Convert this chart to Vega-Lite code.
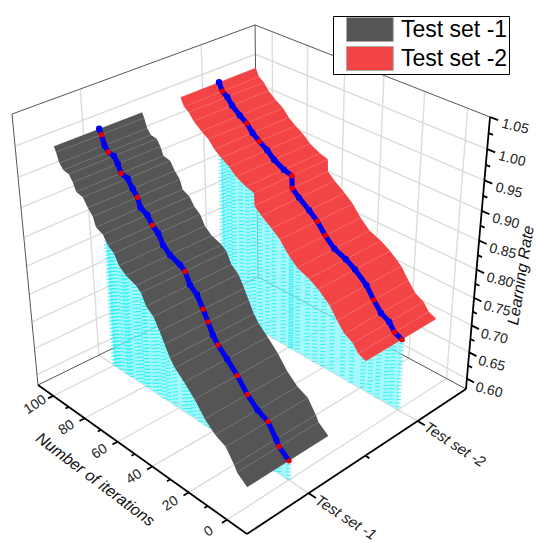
{"$schema":"https://vega.github.io/schema/vega-lite/v6.json","width":536,"height":543,"padding":0,"autosize":"none","config":{"view":{"stroke":null},"font":"Liberation Sans"},
"data":{"values":[
{"t":"g","iter":0,"set":0.5,"rate":0.58,"iter2":0,"set2":2.5,"rate2":0.58},{"t":"g","iter":20,"set":0.5,"rate":0.58,"iter2":20,"set2":2.5,"rate2":0.58},{"t":"g","iter":40,"set":0.5,"rate":0.58,"iter2":40,"set2":2.5,"rate2":0.58},{"t":"g","iter":60,"set":0.5,"rate":0.58,"iter2":60,"set2":2.5,"rate2":0.58},{"t":"g","iter":80,"set":0.5,"rate":0.58,"iter2":80,"set2":2.5,"rate2":0.58},{"t":"g","iter":100,"set":0.5,"rate":0.58,"iter2":100,"set2":2.5,"rate2":0.58},
{"t":"g","iter":-10,"set":1,"rate":0.58,"iter2":110,"set2":1,"rate2":0.58},{"t":"g","iter":-10,"set":2,"rate":0.58,"iter2":110,"set2":2,"rate2":0.58},
{"t":"g","iter":110,"set":1,"rate":0.58,"iter2":110,"set2":1,"rate2":1.05},{"t":"g","iter":110,"set":2,"rate":0.58,"iter2":110,"set2":2,"rate2":1.05},
{"t":"g","iter":110,"set":0.5,"rate":0.6,"iter2":110,"set2":2.5,"rate2":0.6},{"t":"g","iter":110,"set":0.5,"rate":0.65,"iter2":110,"set2":2.5,"rate2":0.65},{"t":"g","iter":110,"set":0.5,"rate":0.7,"iter2":110,"set2":2.5,"rate2":0.7},{"t":"g","iter":110,"set":0.5,"rate":0.75,"iter2":110,"set2":2.5,"rate2":0.75},{"t":"g","iter":110,"set":0.5,"rate":0.8,"iter2":110,"set2":2.5,"rate2":0.8},{"t":"g","iter":110,"set":0.5,"rate":0.85,"iter2":110,"set2":2.5,"rate2":0.85},{"t":"g","iter":110,"set":0.5,"rate":0.9,"iter2":110,"set2":2.5,"rate2":0.9},{"t":"g","iter":110,"set":0.5,"rate":0.95,"iter2":110,"set2":2.5,"rate2":0.95},{"t":"g","iter":110,"set":0.5,"rate":1,"iter2":110,"set2":2.5,"rate2":1},
{"t":"g","iter":0,"set":2.5,"rate":0.58,"iter2":0,"set2":2.5,"rate2":1.05},{"t":"g","iter":20,"set":2.5,"rate":0.58,"iter2":20,"set2":2.5,"rate2":1.05},{"t":"g","iter":40,"set":2.5,"rate":0.58,"iter2":40,"set2":2.5,"rate2":1.05},{"t":"g","iter":60,"set":2.5,"rate":0.58,"iter2":60,"set2":2.5,"rate2":1.05},{"t":"g","iter":80,"set":2.5,"rate":0.58,"iter2":80,"set2":2.5,"rate2":1.05},{"t":"g","iter":100,"set":2.5,"rate":0.58,"iter2":100,"set2":2.5,"rate2":1.05},
{"t":"g","iter":-10,"set":2.5,"rate":0.6,"iter2":110,"set2":2.5,"rate2":0.6},{"t":"g","iter":-10,"set":2.5,"rate":0.65,"iter2":110,"set2":2.5,"rate2":0.65},{"t":"g","iter":-10,"set":2.5,"rate":0.7,"iter2":110,"set2":2.5,"rate2":0.7},{"t":"g","iter":-10,"set":2.5,"rate":0.75,"iter2":110,"set2":2.5,"rate2":0.75},{"t":"g","iter":-10,"set":2.5,"rate":0.8,"iter2":110,"set2":2.5,"rate2":0.8},{"t":"g","iter":-10,"set":2.5,"rate":0.85,"iter2":110,"set2":2.5,"rate2":0.85},{"t":"g","iter":-10,"set":2.5,"rate":0.9,"iter2":110,"set2":2.5,"rate2":0.9},{"t":"g","iter":-10,"set":2.5,"rate":0.95,"iter2":110,"set2":2.5,"rate2":0.95},{"t":"g","iter":-10,"set":2.5,"rate":1,"iter2":110,"set2":2.5,"rate2":1},
{"t":"f","iter":110,"set":0.5,"rate":0.58,"iter2":110,"set2":0.5,"rate2":1.05},{"t":"f","iter":110,"set":0.5,"rate":1.05,"iter2":110,"set2":2.5,"rate2":1.05},{"t":"f","iter":110,"set":2.5,"rate":1.05,"iter2":-10,"set2":2.5,"rate2":1.05},{"t":"f","iter":110,"set":2.5,"rate":0.58,"iter2":110,"set2":2.5,"rate2":1.05},{"t":"f","iter":110,"set":0.5,"rate":0.58,"iter2":110,"set2":2.5,"rate2":0.58},{"t":"f","iter":110,"set":2.5,"rate":0.58,"iter2":-10,"set2":2.5,"rate2":0.58},
{"t":"a","iter":-10,"set":0.5,"rate":0.58,"iter2":110,"set2":0.5,"rate2":0.58},{"t":"a","iter":-10,"set":0.5,"rate":0.58,"iter2":-10,"set2":2.5,"rate2":0.58},{"t":"a","iter":-10,"set":2.5,"rate":0.58,"iter2":-10,"set2":2.5,"rate2":1.05},
{"t":"a","iter":0,"set":0.5,"rate":0.58,"iter2":0,"set2":0.46,"rate2":0.58},{"t":"a","iter":20,"set":0.5,"rate":0.58,"iter2":20,"set2":0.46,"rate2":0.58},{"t":"a","iter":40,"set":0.5,"rate":0.58,"iter2":40,"set2":0.46,"rate2":0.58},{"t":"a","iter":60,"set":0.5,"rate":0.58,"iter2":60,"set2":0.46,"rate2":0.58},{"t":"a","iter":80,"set":0.5,"rate":0.58,"iter2":80,"set2":0.46,"rate2":0.58},{"t":"a","iter":100,"set":0.5,"rate":0.58,"iter2":100,"set2":0.46,"rate2":0.58},
{"t":"a","iter":10,"set":0.5,"rate":0.58,"iter2":10,"set2":0.475,"rate2":0.58},{"t":"a","iter":30,"set":0.5,"rate":0.58,"iter2":30,"set2":0.475,"rate2":0.58},{"t":"a","iter":50,"set":0.5,"rate":0.58,"iter2":50,"set2":0.475,"rate2":0.58},{"t":"a","iter":70,"set":0.5,"rate":0.58,"iter2":70,"set2":0.475,"rate2":0.58},{"t":"a","iter":90,"set":0.5,"rate":0.58,"iter2":90,"set2":0.475,"rate2":0.58},
{"t":"a","iter":-10,"set":1,"rate":0.58,"iter2":-13.6,"set2":1,"rate2":0.58},{"t":"a","iter":-10,"set":2,"rate":0.58,"iter2":-13.6,"set2":2,"rate2":0.58},{"t":"a","iter":-10,"set":1.5,"rate":0.58,"iter2":-12,"set2":1.5,"rate2":0.58},
{"t":"a","iter":-10,"set":2.5,"rate":0.6,"iter2":-13.6,"set2":2.5,"rate2":0.6},{"t":"a","iter":-10,"set":2.5,"rate":0.65,"iter2":-13.6,"set2":2.5,"rate2":0.65},{"t":"a","iter":-10,"set":2.5,"rate":0.7,"iter2":-13.6,"set2":2.5,"rate2":0.7},{"t":"a","iter":-10,"set":2.5,"rate":0.75,"iter2":-13.6,"set2":2.5,"rate2":0.75},{"t":"a","iter":-10,"set":2.5,"rate":0.8,"iter2":-13.6,"set2":2.5,"rate2":0.8},{"t":"a","iter":-10,"set":2.5,"rate":0.85,"iter2":-13.6,"set2":2.5,"rate2":0.85},{"t":"a","iter":-10,"set":2.5,"rate":0.9,"iter2":-13.6,"set2":2.5,"rate2":0.9},{"t":"a","iter":-10,"set":2.5,"rate":0.95,"iter2":-13.6,"set2":2.5,"rate2":0.95},{"t":"a","iter":-10,"set":2.5,"rate":1,"iter2":-13.6,"set2":2.5,"rate2":1},{"t":"a","iter":-10,"set":2.5,"rate":1.05,"iter2":-13.6,"set2":2.5,"rate2":1.05},
{"t":"a","iter":-10,"set":2.5,"rate":0.625,"iter2":-12,"set2":2.5,"rate2":0.625},{"t":"a","iter":-10,"set":2.5,"rate":0.675,"iter2":-12,"set2":2.5,"rate2":0.675},{"t":"a","iter":-10,"set":2.5,"rate":0.725,"iter2":-12,"set2":2.5,"rate2":0.725},{"t":"a","iter":-10,"set":2.5,"rate":0.775,"iter2":-12,"set2":2.5,"rate2":0.775},{"t":"a","iter":-10,"set":2.5,"rate":0.825,"iter2":-12,"set2":2.5,"rate2":0.825},{"t":"a","iter":-10,"set":2.5,"rate":0.875,"iter2":-12,"set2":2.5,"rate2":0.875},{"t":"a","iter":-10,"set":2.5,"rate":0.925,"iter2":-12,"set2":2.5,"rate2":0.925},{"t":"a","iter":-10,"set":2.5,"rate":0.975,"iter2":-12,"set2":2.5,"rate2":0.975},{"t":"a","iter":-10,"set":2.5,"rate":1.025,"iter2":-12,"set2":2.5,"rate2":1.025},
{"t":"li","label":"100","iter":100,"set":0.36,"rate":0.58},{"t":"li","label":"80","iter":80,"set":0.36,"rate":0.58},{"t":"li","label":"60","iter":60,"set":0.36,"rate":0.58},{"t":"li","label":"40","iter":40,"set":0.36,"rate":0.58},{"t":"li","label":"20","iter":20,"set":0.36,"rate":0.58},{"t":"li","label":"0","iter":0,"set":0.36,"rate":0.58},
{"t":"ls","label":"Test set -1","iter":-14,"set":1,"rate":0.58},{"t":"ls","label":"Test set -2","iter":-14,"set":2,"rate":0.58},
{"t":"lr","label":"0.60","iter":-21,"set":2.5,"rate":0.6},{"t":"lr","label":"0.65","iter":-21,"set":2.5,"rate":0.65},{"t":"lr","label":"0.70","iter":-21,"set":2.5,"rate":0.7},{"t":"lr","label":"0.75","iter":-21,"set":2.5,"rate":0.75},{"t":"lr","label":"0.80","iter":-21,"set":2.5,"rate":0.8},{"t":"lr","label":"0.85","iter":-21,"set":2.5,"rate":0.85},{"t":"lr","label":"0.90","iter":-21,"set":2.5,"rate":0.9},{"t":"lr","label":"0.95","iter":-21,"set":2.5,"rate":0.95},{"t":"lr","label":"1.00","iter":-21,"set":2.5,"rate":1},{"t":"lr","label":"1.05","iter":-21,"set":2.5,"rate":1.05},
{"t":"ti","label":"Number of iterations","iter":48.5,"set":0.18,"rate":0.58},{"t":"tr","label":"Learning Rate","iter":-30,"set":2.5,"rate":0.825},
{"t":"c","s":"Test set -1","m":"b","iter":100,"set":1,"rate":1.0},{"t":"c","s":"Test set -1","m":"r","iter":98.9,"set":1,"rate":0.992},{"t":"c","s":"Test set -1","m":"b","iter":97.4,"set":1,"rate":0.977},{"t":"c","s":"Test set -1","m":"r","iter":95.3,"set":1,"rate":0.969},{"t":"c","s":"Test set -1","m":"b","iter":92,"set":1,"rate":0.967},{"t":"c","s":"Test set -1","m":"b","iter":90,"set":1,"rate":0.957},{"t":"c","s":"Test set -1","m":"r","iter":88.4,"set":1,"rate":0.944},{"t":"c","s":"Test set -1","m":"b","iter":84.6,"set":1,"rate":0.941},{"t":"c","s":"Test set -1","m":"b","iter":82,"set":1,"rate":0.928},{"t":"c","s":"Test set -1","m":"r","iter":79.4,"set":1,"rate":0.918},{"t":"c","s":"Test set -1","m":"b","iter":77.9,"set":1,"rate":0.903},{"t":"c","s":"Test set -1","m":"b","iter":74.1,"set":1,"rate":0.897},{"t":"c","s":"Test set -1","m":"r","iter":71.5,"set":1,"rate":0.884},{"t":"c","s":"Test set -1","m":"b","iter":68.3,"set":1,"rate":0.876},{"t":"c","s":"Test set -1","m":"b","iter":65.7,"set":1,"rate":0.86},{"t":"c","s":"Test set -1","m":"b","iter":62,"set":1,"rate":0.85},{"t":"c","s":"Test set -1","m":"b","iter":56.6,"set":1,"rate":0.843},{"t":"c","s":"Test set -1","m":"r","iter":53.9,"set":1,"rate":0.836},{"t":"c","s":"Test set -1","m":"b","iter":51.4,"set":1,"rate":0.818},{"t":"c","s":"Test set -1","m":"b","iter":47.6,"set":1,"rate":0.808},{"t":"c","s":"Test set -1","m":"r","iter":44.5,"set":1,"rate":0.789},{"t":"c","s":"Test set -1","m":"r","iter":42,"set":1,"rate":0.772},{"t":"c","s":"Test set -1","m":"b","iter":39.4,"set":1,"rate":0.754},{"t":"c","s":"Test set -1","m":"r","iter":36.8,"set":1,"rate":0.742},{"t":"c","s":"Test set -1","m":"b","iter":32,"set":1,"rate":0.727},{"t":"c","s":"Test set -1","m":"r","iter":26.7,"set":1,"rate":0.709},{"t":"c","s":"Test set -1","m":"r","iter":21.5,"set":1,"rate":0.686},{"t":"c","s":"Test set -1","m":"b","iter":16.2,"set":1,"rate":0.67},{"t":"c","s":"Test set -1","m":"r","iter":10.8,"set":1,"rate":0.661},{"t":"c","s":"Test set -1","m":"b","iter":6.6,"set":1,"rate":0.639},{"t":"c","s":"Test set -1","m":"r","iter":5.1,"set":1,"rate":0.629},{"t":"c","s":"Test set -1","m":"r","iter":0,"set":1,"rate":0.615},
{"t":"c","s":"Test set -2","m":"b","iter":100,"set":2,"rate":1.0},{"t":"c","s":"Test set -2","m":"r","iter":98.1,"set":2,"rate":0.987},{"t":"c","s":"Test set -2","m":"b","iter":95.3,"set":2,"rate":0.981},{"t":"c","s":"Test set -2","m":"b","iter":92.6,"set":2,"rate":0.97},{"t":"c","s":"Test set -2","m":"b","iter":88.2,"set":2,"rate":0.959},{"t":"c","s":"Test set -2","m":"r","iter":84.3,"set":2,"rate":0.951},{"t":"c","s":"Test set -2","m":"b","iter":81,"set":2,"rate":0.939},{"t":"c","s":"Test set -2","m":"r","iter":77.2,"set":2,"rate":0.93},{"t":"c","s":"Test set -2","m":"b","iter":72.8,"set":2,"rate":0.921},{"t":"c","s":"Test set -2","m":"b","iter":68.9,"set":2,"rate":0.91},{"t":"c","s":"Test set -2","m":"b","iter":63.5,"set":2,"rate":0.901},{"t":"c","s":"Test set -2","m":"r","iter":59.1,"set":2,"rate":0.897},{"t":"c","s":"Test set -2","m":"r","iter":58.9,"set":2,"rate":0.876},{"t":"c","s":"Test set -2","m":"b","iter":55.1,"set":2,"rate":0.865},{"t":"c","s":"Test set -2","m":"b","iter":49.6,"set":2,"rate":0.852},{"t":"c","s":"Test set -2","m":"r","iter":45.2,"set":2,"rate":0.84},{"t":"c","s":"Test set -2","m":"r","iter":40.8,"set":2,"rate":0.822},{"t":"c","s":"Test set -2","m":"b","iter":35.8,"set":2,"rate":0.807},{"t":"c","s":"Test set -2","m":"b","iter":29.8,"set":2,"rate":0.799},{"t":"c","s":"Test set -2","m":"b","iter":24.9,"set":2,"rate":0.789},{"t":"c","s":"Test set -2","m":"b","iter":18.8,"set":2,"rate":0.772},{"t":"c","s":"Test set -2","m":"r","iter":14.9,"set":2,"rate":0.753},{"t":"c","s":"Test set -2","m":"b","iter":11,"set":2,"rate":0.737},{"t":"c","s":"Test set -2","m":"b","iter":6.7,"set":2,"rate":0.729},{"t":"c","s":"Test set -2","m":"r","iter":3.9,"set":2,"rate":0.716},{"t":"c","s":"Test set -2","m":"r","iter":0,"set":2,"rate":0.71}
]},
"transform":[
{"calculate":"(datum.iter+10)/120","as":"u"},{"calculate":"(datum.set-0.5)/2","as":"v"},{"calculate":"(datum.rate-0.58)/0.47","as":"w"},
{"calculate":"datum.t=='c'?datum.u:(datum.iter2+10)/120","as":"u2"},{"calculate":"datum.t=='c'?datum.v:(datum.set2-0.5)/2","as":"v2"},{"calculate":"datum.t=='c'?0:(datum.rate2-0.58)/0.47","as":"w2"},
{"calculate":"datum.v-0.17","as":"vL"},{"calculate":"datum.v+0.17","as":"vR"},
{"calculate":"(247-202.88*datum.u+300.55*datum.v-33.6*datum.w)/(1+0.161*datum.u+0.175*datum.v-0.13*datum.w)+1.8*datum.u*datum.w-1.8*datum.v*datum.w-2.9*datum.u*datum.v*datum.w","as":"px"},
{"calculate":"(534-87.01*datum.u-76.92*datum.v-332*datum.w)/(1+0.161*datum.u+0.175*datum.v-0.13*datum.w)+2.5*datum.u*datum.w-2.7*datum.v*datum.w-6.4*datum.u*datum.v*datum.w","as":"py"},
{"calculate":"(247-202.88*datum.u2+300.55*datum.v2-33.6*datum.w2)/(1+0.161*datum.u2+0.175*datum.v2-0.13*datum.w2)+1.8*datum.u2*datum.w2-1.8*datum.v2*datum.w2-2.9*datum.u2*datum.v2*datum.w2","as":"px2"},
{"calculate":"(534-87.01*datum.u2-76.92*datum.v2-332*datum.w2)/(1+0.161*datum.u2+0.175*datum.v2-0.13*datum.w2)+2.5*datum.u2*datum.w2-2.7*datum.v2*datum.w2-6.4*datum.u2*datum.v2*datum.w2","as":"py2"},
{"calculate":"(247-202.88*datum.u+300.55*datum.vL-33.6*datum.w)/(1+0.161*datum.u+0.175*datum.vL-0.13*datum.w)+1.8*datum.u*datum.w-1.8*datum.vL*datum.w-2.9*datum.u*datum.vL*datum.w","as":"pxL"},
{"calculate":"(534-87.01*datum.u-76.92*datum.vL-332*datum.w)/(1+0.161*datum.u+0.175*datum.vL-0.13*datum.w)+2.5*datum.u*datum.w-2.7*datum.vL*datum.w-6.4*datum.u*datum.vL*datum.w","as":"pyL"},
{"calculate":"(247-202.88*datum.u+300.55*datum.vR-33.6*datum.w)/(1+0.161*datum.u+0.175*datum.vR-0.13*datum.w)+1.8*datum.u*datum.w-1.8*datum.vR*datum.w-2.9*datum.u*datum.vR*datum.w","as":"pxR"},
{"calculate":"(534-87.01*datum.u-76.92*datum.vR-332*datum.w)/(1+0.161*datum.u+0.175*datum.vR-0.13*datum.w)+2.5*datum.u*datum.w-2.7*datum.vR*datum.w-6.4*datum.u*datum.vR*datum.w","as":"pyR"}
],
"encoding":{"x":{"field":"px","type":"quantitative","scale":{"domain":[0,536]},"axis":null},"y":{"field":"py","type":"quantitative","scale":{"domain":[543,0]},"axis":null}},
"layer":[
{"transform":[{"filter":"datum.t=='g'"}],"mark":{"type":"rule","color":"#dcdcdc","strokeWidth":1.4},"encoding":{"x2":{"field":"px2"},"y2":{"field":"py2"}}},
{"transform":[{"filter":"datum.t=='f'"}],"mark":{"type":"rule","color":"#555555","strokeWidth":1},"encoding":{"x2":{"field":"px2"},"y2":{"field":"py2"}}},
{"transform":[{"filter":"datum.t=='c'"},{"calculate":"[0,1]","as":"side"},{"flatten":["side"]},{"calculate":"datum.side==1?datum.px2:datum.px","as":"X"},{"calculate":"datum.side==1?datum.py2:datum.py","as":"Y"},{"calculate":"datum.side==1?1000-datum.iter:datum.iter","as":"ord"}],
"mark":{"type":"line","filled":true,"strokeWidth":0,"color":"#7ff6fa","opacity":0.7},
"encoding":{"x":{"field":"X","type":"quantitative"},"y":{"field":"Y","type":"quantitative"},"detail":{"field":"s"},"order":{"field":"ord","type":"quantitative"}}},
{"transform":[{"filter":"datum.t=='c'"}],"mark":{"type":"rule","color":"#00f0f5","strokeWidth":5,"strokeDash":[1,2.5],"opacity":0.7},"encoding":{"x2":{"field":"px2"},"y2":{"field":"py2"}}},
{"transform":[{"filter":"datum.t=='c'"},{"calculate":"[0,1]","as":"side"},{"flatten":["side"]},{"calculate":"datum.side==1?datum.pxR:datum.pxL","as":"X"},{"calculate":"datum.side==1?datum.pyR:datum.pyL","as":"Y"},{"calculate":"datum.side==1?1000-datum.iter:datum.iter","as":"ord"}],
"mark":{"type":"line","filled":true,"strokeWidth":0,"interpolate":"linear"},
"encoding":{"x":{"field":"X","type":"quantitative"},"y":{"field":"Y","type":"quantitative"},"order":{"field":"ord","type":"quantitative"},
"color":{"field":"s","type":"nominal","scale":{"domain":["Test set -1","Test set -2"],"range":["#555555","#f24444"]},"legend":{"title":null,"orient":"none","legendX":333,"legendY":16,"padding":1,"strokeColor":"#000000","fillColor":"#ffffff","symbolType":"M0,-1H3.9V1H0Z","symbolSize":576,"symbolStrokeWidth":1,"symbolStrokeColor":"#aaaaaa","labelFontSize":23,"labelOffset":42,"labelColor":"#000000","labelFont":"Liberation Sans","rowPadding":0}}}},
{"transform":[{"filter":"datum.t=='c'"}],"mark":{"type":"rule","color":"#ffffff","opacity":0.18,"strokeWidth":1},"encoding":{"x":{"field":"pxL","type":"quantitative"},"y":{"field":"pyL","type":"quantitative"},"x2":{"field":"pxR"},"y2":{"field":"pyR"}}},
{"transform":[{"filter":"datum.t=='c'"}],"mark":{"type":"line","color":"#0000f0","strokeWidth":5},"encoding":{"detail":{"field":"s"},"order":{"field":"iter","type":"quantitative"}}},
{"transform":[{"filter":"datum.t=='c'&&datum.m=='r'"}],"mark":{"type":"point","filled":true,"color":"#e60000","size":30,"opacity":1}},
{"transform":[{"filter":"datum.t=='c'&&datum.m=='b'"}],"mark":{"type":"point","filled":true,"color":"#0000f0","size":42,"opacity":1}},
{"transform":[{"filter":"datum.t=='a'"}],"mark":{"type":"rule","color":"#000000","strokeWidth":1.8},"encoding":{"x2":{"field":"px2"},"y2":{"field":"py2"}}},
{"transform":[{"filter":"datum.t=='li'"}],"mark":{"type":"text","fontSize":14,"angle":-33,"align":"center","baseline":"middle","color":"#222222"},"encoding":{"text":{"field":"label"}}},
{"transform":[{"filter":"datum.t=='lr'"}],"mark":{"type":"text","fontSize":14,"angle":14,"align":"center","baseline":"middle","color":"#222222"},"encoding":{"text":{"field":"label"}}},
{"transform":[{"filter":"datum.t=='ls'"}],"mark":{"type":"text","fontSize":15,"fontStyle":"italic","angle":33,"align":"left","baseline":"middle","color":"#222222"},"encoding":{"text":{"field":"label"}}},
{"transform":[{"filter":"datum.t=='ti'"}],"mark":{"type":"text","fontSize":16,"fontStyle":"italic","angle":37,"align":"center","baseline":"middle","color":"#111111"},"encoding":{"text":{"field":"label"}}},
{"transform":[{"filter":"datum.t=='tr'"}],"mark":{"type":"text","fontSize":16,"fontStyle":"italic","angle":-81,"align":"center","baseline":"middle","color":"#111111"},"encoding":{"text":{"field":"label"}}}
]}
